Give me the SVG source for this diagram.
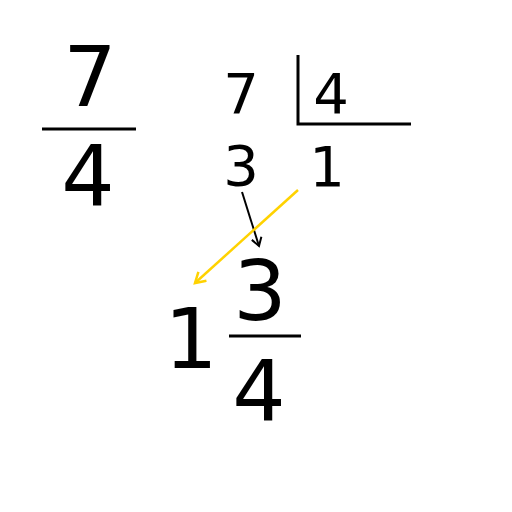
<svg xmlns="http://www.w3.org/2000/svg" width="512" height="512" viewBox="0 0 512 512">
<style>
text{font-family:"DejaVu Sans","Liberation Sans",sans-serif;fill:#000;text-anchor:middle}
.big{font-size:84px}
.small{font-size:56px}
.rule{stroke:#000;stroke-width:3;fill:none}
</style>
<defs>
<marker id="hb" markerWidth="12" markerHeight="12" refX="9" refY="6" orient="auto" markerUnits="userSpaceOnUse">
<path d="M1,1 L9,6 L1,11" fill="none" stroke="#000" stroke-width="2"/>
</marker>
<marker id="hy" markerWidth="14" markerHeight="14" refX="11" refY="7" orient="auto" markerUnits="userSpaceOnUse">
<path d="M1,1 L11,7 L1,13" fill="none" stroke="#FFD200" stroke-width="2.5"/>
</marker>
</defs>
<rect width="512" height="512" fill="#fff"/>
<g id="fraction-7-4">
<text class="big" x="90" y="106">7</text>
<line class="rule" x1="42" y1="129" x2="136" y2="129"/>
<text class="big" x="88" y="205">4</text>
</g>
<g id="division">
<text class="small" x="241" y="113">7</text>
<text class="small" x="331" y="113">4</text>
<path class="rule" d="M298,55 V124 H411"/>
<text class="small" x="241" y="185">3</text>
<text class="small" x="327" y="186">1</text>
</g>
<g id="mixed-number">
<text class="big" x="191" y="368">1</text>
<text class="big" x="260" y="320">3</text>
<line class="rule" x1="229" y1="336" x2="301" y2="336"/>
<text class="big" x="259" y="420">4</text>
</g>
<g id="connectors">
<line x1="242" y1="192" x2="259" y2="246" stroke="#000" stroke-width="2" marker-end="url(#hb)"/>
<line x1="298" y1="190" x2="195" y2="283" stroke="#FFD200" stroke-width="2.5" marker-end="url(#hy)"/>
</g>
</svg>
